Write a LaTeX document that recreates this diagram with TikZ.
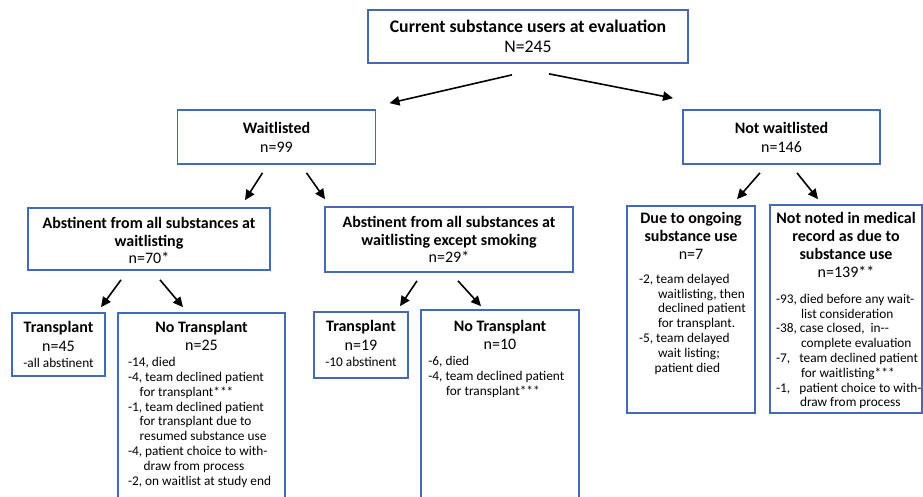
\documentclass[tikz,border=0pt]{standalone}
\usepackage{fontspec}
\setmainfont{Carlito}
\usetikzlibrary{arrows.meta,calc}
\definecolor{boxblue}{RGB}{68,106,182}
\newcommand{\ttl}{\fontsize{12}{13.5}\selectfont}
\newcommand{\lst}{\fontsize{10}{11.1}\selectfont}
\newcommand{\bbody}[4]{\parbox[c][#2][t]{#1}{\centering\ttl\vspace*{#3}#4}}
\newcommand{\items}[1]{\raggedright\leftskip=#1\rightskip=-30pt plus 1fil\lst}
\tikzset{
  blk/.style={draw=boxblue, line width=1.3pt, inner sep=0pt},
  arr/.style={-{Triangle[length=7.5pt,width=7pt]}, line width=1.2pt}
}

\begin{document}
\begin{tikzpicture}[x=0.75pt, y=-0.75pt]
        \clip (0,0) rectangle (923,496);
        \fill[white] (0,0) rectangle (923,496);
        \node[blk] (top) at (528,36.5) {\bbody{240pt}{39.75pt}{7.6pt}{\fontsize{13.3}{15}\selectfont\textbf{Current substance users at evaluation}\\N=245}};
        \node[blk] (wl) at (276.5,137) {\bbody{148.5pt}{40.5pt}{9.3pt}{\fontsize{12}{14}\selectfont\textbf{Waitlisted}\\n=99}};
        \node[blk] (nwl) at (781.5,137) {\bbody{147.75pt}{40.5pt}{9.1pt}{\fontsize{12}{14}\selectfont\textbf{Not waitlisted}\\n=146}};
        \node[blk] (ab1) at (149,239) {\bbody{181.5pt}{46.5pt}{7.3pt}{\fontsize{12}{13.1}\selectfont\textbf{Abstinent from all substances at}\\\textbf{waitlisting}\\n=70*}};
        \node[blk] (ab2) at (449,239.5) {\bbody{186pt}{48.75pt}{7.3pt}{\fontsize{12}{13.1}\selectfont\textbf{Abstinent from all substances at}\\\textbf{waitlisting except smoking}\\n=29*}};
        \node[blk] (t45) at (58.5,344.5) {\bbody{69.75pt}{47.25pt}{6.5pt}{\fontsize{12}{14}\selectfont\textbf{Transplant}\\n=45\par
          \vspace{0.7pt}\lst -all abstinent}};
        \node[blk] (t19) at (361,345) {\bbody{70.5pt}{49.5pt}{6.3pt}{\fontsize{12}{14}\selectfont\textbf{Transplant}\\n=19\par
          \vspace{0.7pt}\lst -10 abstinent}};
        \node[blk] (due) at (691,309.5) {\bbody{96pt}{155.25pt}{5pt}{\textbf{Due to ongoing}\\\textbf{substance use}\\n=7\par
          \vspace{6.4pt}\items{9pt}
          -2, team delayed\\\hspace*{14.3pt}waitlisting, then\\\hspace*{14.3pt}declined patient\\\hspace*{14.3pt}for transplant.\\-5, team delayed\\\hspace*{14.3pt}wait listing;\\\hspace*{11.8pt}patient died}};
        \node[blk] (nn) at (846,309) {\bbody{114pt}{156pt}{5.5pt}{\textbf{Not noted in medical}\\\textbf{record as due to}\\\textbf{substance use}\\n=139**\par
          \vspace{8.2pt}\items{4.5pt}
          -93, died before any wait-\\\hspace*{18.8pt}list consideration\\-38, case closed,~~in-{}-\\\hspace*{18.8pt}complete evaluation\\\makebox[17.5pt][l]{-7,}team declined patient\\\hspace*{18.8pt}for waitlisting***\\\makebox[17.5pt][l]{-1,}patient choice to with-\\\hspace*{18pt}draw from process}};
        \node[blk] (nt25) at (201.5,409) {\bbody{125.25pt}{144pt}{6.5pt}{\textbf{No Transplant}\\n=25\par
          \vspace{0.7pt}\items{7.5pt}
          -14, died\\-4, team declined patient\\\hspace*{8.8pt}for transplant***\\-1, team declined patient\\\hspace*{8.8pt}for transplant due to\\\hspace*{8.8pt}resumed substance use\\-4, patient choice to with-\\\hspace*{11.8pt}draw from process\\-2, on waitlist at study end}};
        \node[blk] (nt10) at (500,407.5) {\bbody{118.5pt}{146.25pt}{8pt}{\textbf{No Transplant}\\n=10\par
          \vspace{0.9pt}\items{5.5pt}
          -6, died\\-4, team declined patient\\\hspace*{13.3pt}for transplant***}};
        \draw[arr] ($(top.south)+(-16,11)$) -- ($(wl.north)+(113,-6)$);
        \draw[arr] ($(top.south)+(21,10)$) -- ($(nwl.north)+(-108.5,-11)$);
        \draw[arr] ($(wl.south)+(-14,8)$) -- ($(ab1.north)+(96,-7)$);
        \draw[arr] ($(wl.south)+(30,8)$) -- ($(ab2.north)+(-124,-7)$);
        \draw[arr] ($(nwl.south)+(-21.5,8)$) -- ($(due.north)+(46,-6)$);
        \draw[arr] ($(nwl.south)+(15.5,8)$) -- ($(nn.north)+(-28,-5)$);
        \draw[arr] ($(ab1.south)+(-28,9)$) -- ($(t45.north)+(42.5,-5)$);
        \draw[arr] ($(ab1.south)+(11,9)$) -- ($(nt25.north)+(-18.5,-5)$);
        \draw[arr] ($(ab2.south)+(-32,8)$) -- ($(t19.north)+(39,-5)$);
        \draw[arr] ($(ab2.south)+(9,8)$) -- ($(nt10.north)+(-19,-3)$);
    \end{tikzpicture}
\end{document}
